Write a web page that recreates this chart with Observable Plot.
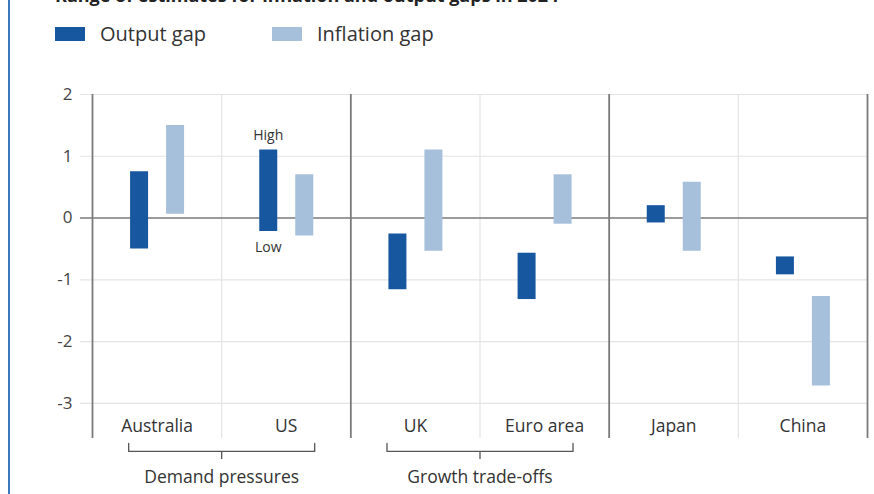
<!DOCTYPE html>
<html><head><meta charset="utf-8">
<script src="https://cdn.jsdelivr.net/npm/d3@7"></script>
<script src="https://cdn.jsdelivr.net/npm/@observablehq/plot@0.6"></script>
<style>
body{margin:0;width:874px;height:494px;overflow:hidden;background:#fff;font-family:"Open Sans",sans-serif;position:relative}
#edge{position:absolute;left:8px;top:0;width:1.5px;height:494px;background:#3b78bd}
#title{position:absolute;left:55px;top:-14px;font-weight:bold;font-size:18px;color:#222;white-space:nowrap;line-height:18px}
#legend{position:absolute;left:55px;top:21px;display:flex;align-items:center;font-size:20px;color:#333;line-height:26px}
#legend .item{display:flex;align-items:center}
#legend .sw{width:30px;height:14px;display:inline-block;margin-right:15px}
#chart{position:absolute;left:0;top:60px}
</style>
</head><body>
<div id="edge"></div>
<div id="title">Range of estimates for inflation and output gaps in 2024</div>
<div id="legend"></div>
<div id="chart"></div>
<script>
const countries = ["Australia", "US", "UK", "Euro area", "Japan", "China"];
const outputLow = [-0.5, -0.22, -1.16, -1.32, -0.08, -0.92];
const outputHigh = [0.75, 1.1, -0.26, -0.57, 0.2, -0.63];
const inflationLow = [0.06, -0.29, -0.54, -0.1, -0.54, -2.72];
const inflationHigh = [1.5, 0.7, 1.1, 0.7, 0.58, -1.27];
const groupNames = ["Demand pressures", "Growth trade-offs", ""];
const groupMembers = [["Australia", "US"], ["UK", "Euro area"], ["Japan", "China"]];
const yTicks = [-3, -2, -1, 0, 1, 2];
const seriesNames = ["Output gap", "Inflation gap"];
const seriesColors = ["#1757a0", "#a6bfda"];

// legend
const legend = document.getElementById("legend");
seriesNames.forEach((s, i) => {
  const it = document.createElement("span");
  it.className = "item";
  it.style.marginRight = i === 0 ? "66px" : "0";
  it.innerHTML = `<span class="sw" style="background:${seriesColors[i]}"></span><span>${s}</span>`;
  legend.appendChild(it);
});

const rows = countries.map((c, i) => ({
  country: c, pos: i + 0.5,
  oLow: outputLow[i], oHigh: outputHigh[i],
  iLow: inflationLow[i], iHigh: inflationHigh[i]
}));

const yMin = -3.57, yMax = 2;
const nCat = countries.length;
// group boundaries
const darkB = [0];
groupMembers.forEach(g => darkB.push(darkB[darkB.length - 1] + g.length));
const lightB = d3.range(0, nCat + 1).filter(b => !darkB.includes(b));

// brackets for named groups
const bracketTop = -3.65, bracketMid = -3.78, bracketTip = -3.91, groupLabelY = -4.2;
const bracketPts = [];
const bracketCenters = [];
groupMembers.forEach((g, gi) => {
  if (!groupNames[gi]) return;
  const a = countries.indexOf(g[0]) + 0.5 - 0.22;
  const b = countries.indexOf(g[g.length - 1]) + 0.5 + 0.22;
  bracketPts.push({g: gi, x: a, y: bracketTop}, {g: gi, x: a, y: bracketMid},
                  {g: gi, x: b, y: bracketMid}, {g: gi, x: b, y: bracketTop});
  bracketCenters.push({x: (a + b) / 2, name: groupNames[gi]});
});

const usRow = rows.find(r => r.country === "US");

const chart = Plot.plot({
  width: 874, height: 434,
  marginTop: 34, marginBottom: 56, marginLeft: 92, marginRight: 7,
  x: {type: "linear", domain: [0, nCat], axis: null},
  y: {domain: [yMin, yMax], axis: null},
  style: {fontFamily: "Open Sans, sans-serif", background: "transparent", overflow: "visible"},
  marks: [
    Plot.ruleY(yTicks.filter(t => t !== 0), {x1: -0.093, x2: nCat, stroke: "#e4e4e4", strokeWidth: 1.2}),
    Plot.ruleX(lightB, {y1: yMin, y2: yMax, stroke: "#e4e4e4", strokeWidth: 1.2}),
    Plot.ruleY([0], {x1: -0.093, x2: nCat, stroke: "#7a7a7a", strokeWidth: 1.6}),
    Plot.ruleX(darkB, {y1: yMin, y2: yMax, stroke: "#7a7a7a", strokeWidth: 1.8}),
    Plot.text(yTicks, {x: 0, y: d => d, text: d => String(d), textAnchor: "end", dx: -20, fontSize: 17, fill: "#444"}),
    Plot.ruleX(rows, {x: "pos", y1: "oLow", y2: "oHigh", stroke: seriesColors[0], strokeWidth: 18, dx: -18}),
    Plot.ruleX(rows, {x: "pos", y1: "iLow", y2: "iHigh", stroke: seriesColors[1], strokeWidth: 18, dx: 18}),
    Plot.text([usRow], {x: "pos", y: "oHigh", text: () => "High", dx: -18, dy: -15, fontSize: 14, fill: "#333"}),
    Plot.text([usRow], {x: "pos", y: "oLow", text: () => "Low", dx: -18, dy: 16, fontSize: 14, fill: "#333"}),
    Plot.text(rows, {x: "pos", y: yMin, text: "country", dy: -12, fontSize: 17.5, fill: "#333"}),
    Plot.line(bracketPts, {x: "x", y: "y", z: "g", stroke: "#555", strokeWidth: 1.3, curve: "linear"}),
    Plot.ruleX(bracketCenters, {x: "x", y1: bracketMid, y2: bracketTip, stroke: "#555", strokeWidth: 1.3}),
    Plot.text(bracketCenters, {x: "x", y: groupLabelY, text: "name", fontSize: 17.5, fill: "#333"})
  ]
});
document.getElementById("chart").appendChild(chart);
</script>
</body></html>
